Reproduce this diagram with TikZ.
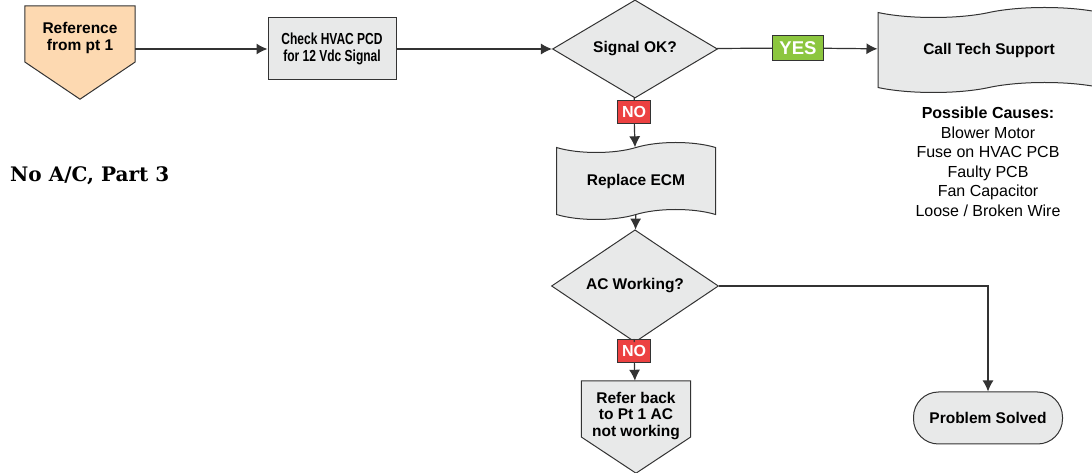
\documentclass[tikz,border=0pt]{standalone}
\usepackage{fontspec}
\setmainfont{Liberation Sans}
\newfontfamily\narrowbold[FakeStretch=0.75]{Liberation Sans Bold}
\newfontfamily\slabfont{DejaVu Serif}
\usetikzlibrary{shapes,arrows.meta,backgrounds}
\definecolor{boxgray}{HTML}{E8E9E9}
\definecolor{peach}{HTML}{FDD9B1}
\definecolor{linegray}{HTML}{333333}
\definecolor{nored}{HTML}{EC4141}
\definecolor{yesgreen}{HTML}{8CC63F}

\begin{document}
\begin{tikzpicture}[x=1bp,y=-1bp,>={Latex[length=11bp,width=11bp]},
    line/.style={draw=linegray, line width=1.2bp},
    outline/.style={draw=linegray, line width=1bp},
    box/.style={outline, fill=boxgray, align=center, inner sep=0pt,
        font=\bfseries\fontsize{15.5bp}{16.5bp}\selectfont},
    decision/.style={box, shape=diamond, minimum width=165bp, minimum height=85bp},
    tapebox/.style={box, shape=tape, tape bend height=10bp},
    offpage/.style={align=center, inner sep=0pt,
        font=\bfseries\fontsize{15.5bp}{16.5bp}\selectfont},
    tag/.style={outline, text=white, inner sep=0pt, minimum height=23bp,
        font=\bfseries\fontsize{16bp}{16bp}\selectfont}]
    \useasboundingbox (0,0) rectangle (1092,473);

    % top row
    \node[offpage, minimum width=110bp, minimum height=64bp] (ref) at (80,38) {Reference\\from pt 1};
    \node[box, minimum width=128bp, minimum height=62bp,
        font=\narrowbold\fontsize{16bp}{16.5bp}\selectfont] (check) at (332,49) {Check HVAC PCD\\for 12 Vdc Signal};
    \node[decision] (sig) at (635,49) {Signal OK?};
    \node[tag, fill=yesgreen, minimum width=51bp, minimum height=25bp,
        font=\bfseries\fontsize{18.5bp}{18.5bp}\selectfont] (yes) at (798,48) {YES};
    \node[tapebox, minimum width=222bp, minimum height=85bp] (call) at (989,50) {Call Tech Support};
    \node[anchor=north, align=center, inner sep=0pt, font=\fontsize{16bp}{19.5bp}\selectfont] (causes) at (988,107)
        {\textbf{Possible Causes:}\\Blower Motor\\Fuse on HVAC PCB\\Faulty PCB\\Fan Capacitor\\Loose / Broken Wire};

    % middle column
    \node[tag, fill=nored, minimum width=33bp] (no1) at (634,112) {NO};
    \node[tapebox, minimum width=159bp, minimum height=77bp] (ecm) at (636,181) {Replace ECM};
    \node[decision, minimum width=167bp, minimum height=83bp] (acw) at (635,286) {AC Working?};
    \node[tag, fill=nored, minimum width=33bp] (no2) at (634,351) {NO};
    \node[offpage, minimum width=109bp, minimum height=70bp] (refer) at (636,416) {Refer back\\to Pt 1 AC\\not working};
    \node[box, rounded corners=25bp, minimum width=149bp, minimum height=52bp] (solved) at (988,418) {Problem Solved};

    \node[anchor=west, inner sep=0pt, font=\slabfont\bfseries\fontsize{20bp}{20bp}\selectfont] (title) at (10,176) {No A/C, Part 3};

    % off-page pentagons behind their text
    \begin{scope}[on background layer]
        \draw[outline, fill=peach] (ref.north west) -- (ref.north east) -- ([yshift=-24bp]ref.east)
            -- ([yshift=-29bp]ref.south) -- ([yshift=-24bp]ref.west) -- cycle;
        \draw[outline, fill=boxgray] (refer.north west) -- (refer.north east) -- ([yshift=-21bp]refer.east)
            -- ([yshift=-22bp]refer.south) -- ([yshift=-21bp]refer.west) -- cycle;
    \end{scope}

    % connectors
    \draw[line,->] (check.west -| ref.east) -- (check.west);
    \draw[line,->] (check) -- (sig);
    \draw[line] (sig) -- (yes);
    \draw[line,->] (yes) -- (call);
    \draw[line] (sig) -- (no1);
    \draw[line,->] (no1) -- (ecm);
    \draw[line,->] (ecm) -- (acw);
    \draw[line] (acw) -- (no2);
    \draw[line,->] (no2) -- (refer);
    \draw[line,->] (acw.east) -| (solved.north);
\end{tikzpicture}
\end{document}
